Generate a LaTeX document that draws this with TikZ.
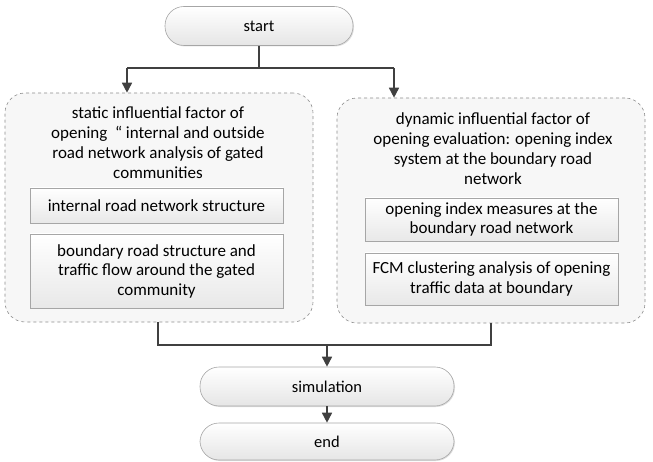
\documentclass[tikz,border=0pt]{standalone}
\usepackage{fontspec}
\setmainfont{Carlito}
\usetikzlibrary{arrows.meta,shadows}
\definecolor{lineC}{HTML}{404040}
\definecolor{boxB}{HTML}{A6A6A6}
\definecolor{grpB}{HTML}{8C8C8C}
\definecolor{grpF}{HTML}{F7F7F7}
\tikzset{
  term/.style={draw=boxB, line width=0.6pt, rounded corners=19pt, top color=white, bottom color=black!10,
    drop shadow={shadow xshift=1pt, shadow yshift=-1pt, opacity=0.25},
    minimum height=39pt, inner sep=0pt, font=\fontsize{16.5}{20}\selectfont},
  grp/.style={draw=grpB, dashed, line width=0.6pt, rounded corners=20pt, fill=grpF, inner sep=0pt},
  sub/.style={draw=boxB, line width=0.6pt, top color=white, bottom color=black!9,
    drop shadow={shadow xshift=1pt, shadow yshift=-1pt, opacity=0.25},
    minimum width=253pt, inner sep=0pt, align=center, font=\fontsize{17}{19.5}\selectfont},
  ttl/.style={align=center, inner sep=0pt, font=\fontsize{17}{20}\selectfont},
  conn/.style={draw=lineC, line width=1.6pt},
  arr/.style={conn, -{Triangle[width=10pt,length=10pt]}}
}
\begin{document}
\begin{tikzpicture}[x=1pt,y=-1pt]
\useasboundingbox (0,0) rectangle (653,462);
% groups
\node[grp, minimum width=308pt, minimum height=229pt] (gl) at (159,207.5) {};
\node[grp, minimum width=308pt, minimum height=225pt] (gr) at (491,210.5) {};
% terminals
\node[term, minimum width=188pt] (start) at (259,26) {start};
\node[term, minimum width=254pt] (sim) at (327,386.5) {simulation};
\node[term, minimum width=254pt, minimum height=37pt] (end) at (327,441.5) {end};
% titles
\node[ttl] (tl) at (158,142.5) {static influential factor of\\opening \ “ internal and outside\\road network analysis of gated\\communities};
\node[ttl] (tr) at (493,149) {dynamic influential factor of\\opening evaluation: opening index\\system at the boundary road\\network};
% sub boxes
\node[sub, minimum height=35pt] (l1) at (156.5,205.5) {internal road network structure};
\node[sub, minimum height=74pt] (l2) at (156.5,271) {boundary road structure and\\traffic flow around the gated\\community};
\node[sub, minimum height=43pt, minimum width=253pt] (r1) at (491.5,219.5) {opening index measures at the\\boundary road network};
\node[sub, minimum height=52pt, minimum width=253pt] (r2) at (491.5,279) {FCM clustering analysis of opening\\traffic data at boundary};
% connectors
\coordinate (j1) at (259,68);
\coordinate (jl) at (127,68);
\coordinate (jr) at (394,68);
\draw[conn] (start.south) -- (j1);
\draw[conn] (jl) -- (jr);
\draw[arr] (jl) -- (jl |- gl.north);
\draw[arr] (jr) -- (jr |- gr.north);
\coordinate (bl) at (158,345);
\coordinate (br) at (491,345);
\coordinate (bm) at (327,345);
\draw[conn] (bl |- gl.south) -- (bl) -- (br) -- (br |- gr.south);
\draw[arr] (bm) -- (sim.north);
\draw[arr] (sim.south) -- (end.north);
\end{tikzpicture}
\end{document}
